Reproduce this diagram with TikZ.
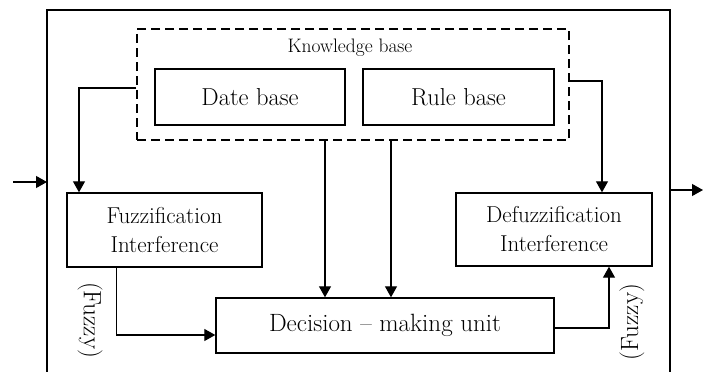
\documentclass[tikz,border=0pt]{standalone}
\usetikzlibrary{arrows.meta,calc}
\begin{document}
\begin{tikzpicture}[x=1pt,y=-1pt,line cap=butt,line join=miter,>={Triangle[length=11pt,width=12pt]},
  block/.style={draw,line width=1.4pt,inner sep=0pt,align=center},
  link/.style={line width=1.2pt,->}]
  \useasboundingbox (0,0) rectangle (710,372);
  % outer frame
  \draw[line width=2pt] (47,372) -- (47,10) -- (670,10) -- (670,372);
  \draw[link] (13,182) -- (47,182);
  \draw[link] (670,190) -- (703,190);
  % knowledge base
  \node[block,dashed,dash pattern=on 9pt off 5pt,minimum width=432pt,minimum height=111pt] (kb) at (353,84.5) {};
  \node[font=\fontsize{19.5}{22}\selectfont] (kbl) at ($(kb.north)+(-3,19)$) {Knowledge base};
  \node[block,font=\fontsize{24.5}{28}\selectfont,minimum width=190pt,minimum height=56pt] (date) at (250,97) {Date base};
  \node[block,font=\fontsize{24.5}{28}\selectfont,minimum width=191pt,minimum height=56pt] (rule) at (458.5,97) {Rule base};
  % processing blocks
  \node[block,font=\fontsize{23}{29}\selectfont,minimum width=195pt,minimum height=74pt] (fuzz) at (164.5,230) {Fuzzification\\Interference};
  \node[block,font=\fontsize{23}{29}\selectfont,minimum width=196pt,minimum height=73pt] (defuzz) at (554,229.5) {Defuzzification\\Interference};
  \node[block,font=\fontsize{25}{29}\selectfont,minimum width=338pt,minimum height=55pt] (dec) at (385,325.5) {Decision -- making unit};
  % connectors
  \coordinate (k1) at ($(kb.south)+(-28,0)$);
  \coordinate (k2) at ($(kb.south)+(38,0)$);
  \coordinate (f1) at ($(fuzz.south)+(-48,0)$);
  \coordinate (d1) at ($(defuzz.south)+(55,0)$);
  \draw[link] ($(kb.west)+(0,3.5)$) -| ($(fuzz.north)+(-85.5,0)$);
  \draw[link] ($(kb.east)+(0,-3.5)$) -| ($(defuzz.north)+(48,0)$);
  \draw[link] (k1) -- (k1 |- dec.north);
  \draw[link] (k2) -- (k2 |- dec.north);
  \draw[link] (f1) |- ($(dec.west)+(0,9.5)$);
  \draw[link] ($(dec.east)+(0,2.5)$) -| (d1);
  % labels
  \node[rotate=-90,font=\fontsize{25}{28}\selectfont] (fzl) at (90,320) {(Fuzzy)};
  \node[rotate=90,font=\fontsize{25}{28}\selectfont] (fzr) at (632,322) {(Fuzzy)};
\end{tikzpicture}
\end{document}
